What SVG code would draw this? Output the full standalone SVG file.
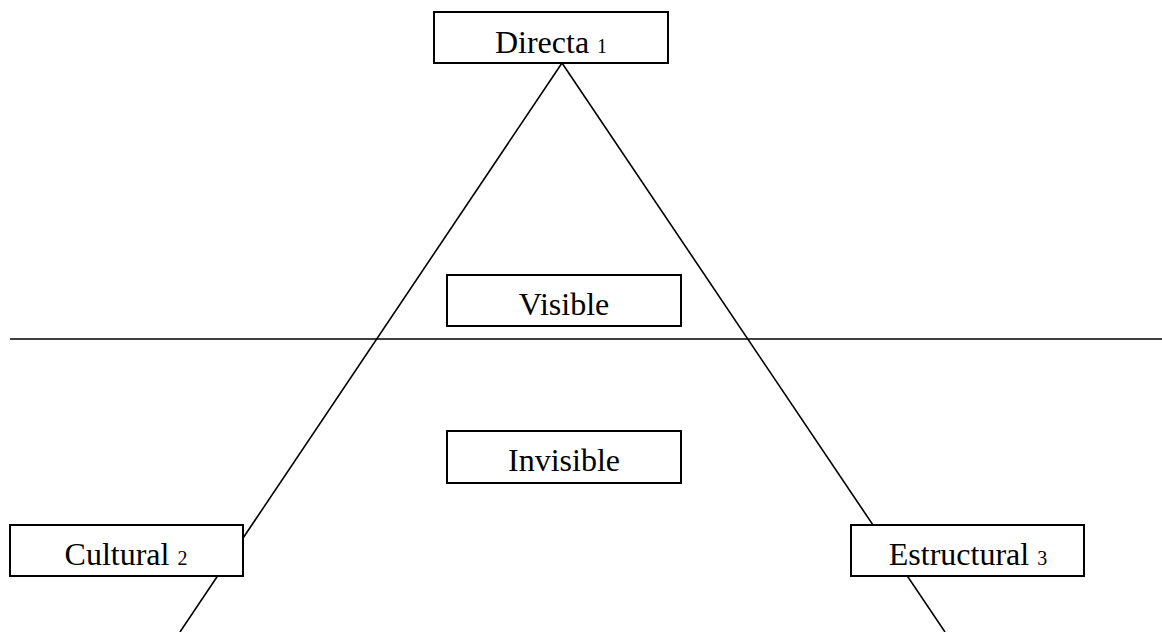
<svg xmlns="http://www.w3.org/2000/svg" width="1162" height="632" viewBox="0 0 1162 632">
<style>
.box{fill:#fff;stroke:#000;stroke-width:2}
.ln{stroke:#000;stroke-width:1.6;fill:none}
text{font-family:"Liberation Serif","DejaVu Serif",serif;font-size:32px;fill:#000;text-anchor:middle}
.sub{font-size:20px}
</style>
<rect width="1162" height="632" fill="#fff"/>
<g id="connectors">
<line class="ln" x1="10" y1="339" x2="1162" y2="339"/>
<line class="ln" x1="562" y1="63" x2="180" y2="632"/>
<line class="ln" x1="562" y1="63" x2="945" y2="632"/>
</g>
<g id="directa">
<rect class="box" x="434" y="12" width="234" height="51"/>
<text x="551" y="53">Directa <tspan class="sub">1</tspan></text>
</g>
<g id="visible">
<rect class="box" x="447" y="275" width="234" height="51"/>
<text x="564" y="315">Visible</text>
</g>
<g id="invisible">
<rect class="box" x="447" y="431" width="234" height="52"/>
<text x="564" y="471">Invisible</text>
</g>
<g id="cultural">
<rect class="box" x="10" y="525" width="233" height="51"/>
<text x="126" y="565">Cultural <tspan class="sub">2</tspan></text>
</g>
<g id="estructural">
<rect class="box" x="851" y="525" width="233" height="51"/>
<text x="968" y="565">Estructural <tspan class="sub">3</tspan></text>
</g>
</svg>
